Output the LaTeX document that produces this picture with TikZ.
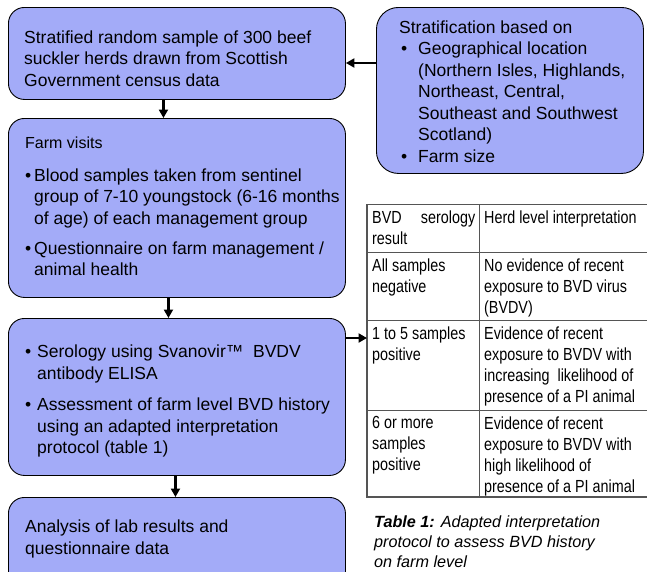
\documentclass[tikz,border=0pt]{standalone}
\usepackage{fontspec}
\setmainfont{Liberation Sans}
\newfontfamily\narrowfont[FakeStretch=0.82]{Liberation Sans}
\usetikzlibrary{positioning,arrows.meta,calc}
\definecolor{boxblue}{HTML}{A3ABF8}
\definecolor{gridgrey}{HTML}{555555}
\newcommand{\blt}[1]{\makebox[#1][l]{\textbullet}}

\begin{document}
\begin{tikzpicture}[x=1pt, y=-1pt,
      stage/.style={rectangle, draw=black, fill=boxblue, rounded corners=16pt, anchor=north west, line width=0.9pt},
      txt/.style={inner sep=0pt, align=left, font=\fontsize{17.5}{21.5}\selectfont},
      cell/.style={inner sep=0pt, align=left, font=\narrowfont\fontsize{17.5}{21}\selectfont},
      flow/.style={-{Triangle[length=8.5pt,width=9pt]}, line width=2.3pt},
      grid/.style={draw=gridgrey, line width=0.8pt}
      ]
      \clip (0,0) rectangle (647,571);

      % flow chart on the left
      \node[stage, minimum width=337pt, minimum height=92pt] (S1) at (8,7) {};
      \node[stage, minimum width=337pt, minimum height=179pt] (S2) at (8,118) {};
      \node[stage, minimum width=337pt, minimum height=157pt] (S3) at (8,318) {};
      \node[stage, minimum width=337pt, minimum height=100pt] (S4) at (8,497) {};
      \node[stage, rounded corners=22pt, minimum width=267pt, minimum height=166pt] (Strat) at (376,7) {};

      \node[txt, below right=23.5pt and 16pt of S1.north west] (S1txt) {Stratified random sample of 300 beef\\suckler herds drawn from Scottish\\Government census data};
      \node[txt, below right=19pt and 17pt of S2.north west] (S2txt) {{\fontsize{16}{19}\selectfont Farm visits}\\[11pt]
        \blt{9pt}Blood samples taken from sentinel\\
        \hspace*{9pt}group of 7-10 youngstock (6-16 months\\
        \hspace*{9pt}of age) of each management group\\[8.5pt]
        \blt{9pt}Questionnaire on farm management /\\
        \hspace*{9pt}animal health};
      \node[txt, below right=27pt and 17pt of S3.north west] (S3txt) {\blt{12pt}Serology using Svanovir™\ \ BVDV\\
        \hspace*{12pt}antibody ELISA\\[10pt]
        \blt{12pt}Assessment of farm level BVD history\\
        \hspace*{12pt}using an adapted interpretation\\
        \hspace*{12pt}protocol (table 1)};
      \node[txt, below right=23pt and 17pt of S4.north west] (S4txt) {Analysis of lab results and\\questionnaire data};
      \node[txt, below right=13.5pt and 23pt of Strat.north west] (StratTxt) {Stratification based on\\
        \hspace*{2pt}\blt{17pt}Geographical location\\
        \hspace*{19pt}(Northern Isles, Highlands,\\
        \hspace*{19pt}Northeast, Central,\\
        \hspace*{19pt}Southeast and Southwest\\
        \hspace*{19pt}Scotland)\\
        \hspace*{2pt}\blt{17pt}Farm size};

      % table 1
      \node[anchor=north west, inner sep=0pt, outer sep=0pt, minimum width=300pt, minimum height=293pt] (tab) at (367,204) {};
      \draw[grid] (tab.north west) rectangle (tab.south east);
      \draw[grid] ([xshift=112pt]tab.north west) -- ([xshift=112pt]tab.south west);
      \foreach \dy in {48,116,206}
        \draw[grid] ([yshift=-\dy pt]tab.north west) -- ([yshift=-\dy pt]tab.north east);
      \draw[draw=gridgrey, line width=1.6pt] (tab.north west) -- (tab.south west) -- (tab.south east);

      \node[cell, below right=6.5pt and 5pt of tab.north west] (h1) {\makebox[103pt][s]{BVD serology}\\result};
      \node[cell, below right=6.5pt and 117pt of tab.north west] (h2) {Herd level interpretation};
      \node[cell, below right=54.5pt and 5pt of tab.north west] (c11) {All samples\\negative};
      \node[cell, below right=54.5pt and 117pt of tab.north west] (c12) {No evidence of recent\\exposure to BVD virus\\(BVDV)};
      \node[cell, below right=122.5pt and 5pt of tab.north west] (c21) {1 to 5 samples\\positive};
      \node[cell, below right=122.5pt and 117pt of tab.north west] (c22) {Evidence of recent\\exposure to BVDV with\\increasing\ \ likelihood of\\presence of a PI animal};
      \node[cell, below right=212.5pt and 5pt of tab.north west] (c31) {6 or more\\samples\\positive};
      \node[cell, below right=212.5pt and 117pt of tab.north west] (c32) {Evidence of recent\\exposure to BVDV with\\high likelihood of\\presence of a PI animal};
      \node[inner sep=0pt, align=left, font=\itshape\fontsize{16.2}{20}\selectfont, below right=18.5pt and 7pt of tab.south west] (cap) {{\bfseries Table 1:} Adapted interpretation\\protocol to assess BVD history\\on farm level};

      % connectors
      \coordinate (a1) at ([yshift=-56pt]Strat.north west);
      \coordinate (a2) at ([yshift=-20pt]S3.north east);
      \draw[flow] (a1) -- (a1 -| S1.east);
      \draw[flow] ([xshift=-13.5pt]S1.south) -- ([xshift=-13.5pt]S2.north);
      \draw[flow] ([xshift=-8.5pt]S2.south) -- ([xshift=-8.5pt]S3.north);
      \draw[flow] ([xshift=-1.5pt]S3.south) -- ([xshift=-1.5pt]S4.north);
      \draw[flow] (a2) -- (a2 -| tab.west);
    \end{tikzpicture}
\end{document}
